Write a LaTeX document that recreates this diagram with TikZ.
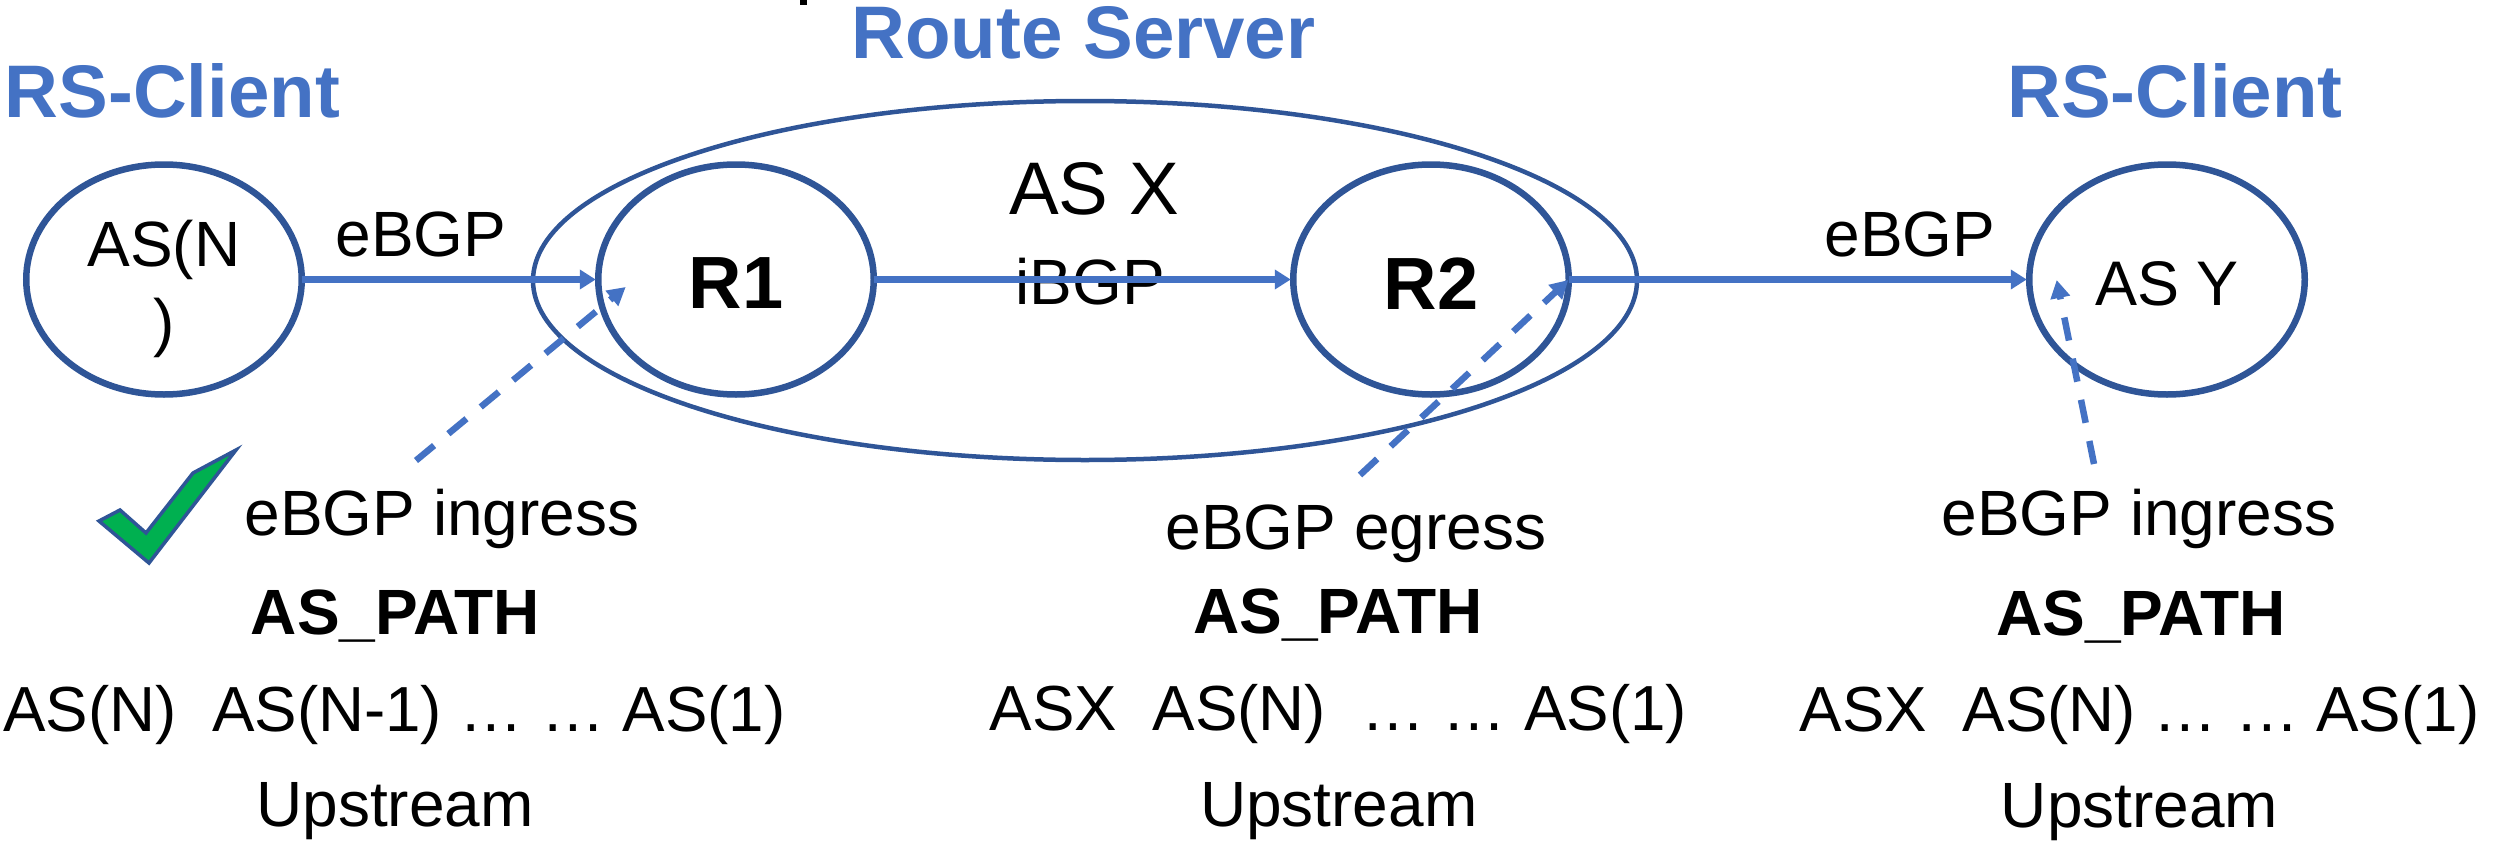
\documentclass[tikz,border=0pt]{standalone}
\usepackage{fontspec}
\setmainfont{Liberation Sans}
\usetikzlibrary{shapes.geometric,arrows.meta}
\definecolor{edgeblue}{HTML}{2F5597}
\definecolor{accent}{HTML}{4472C4}
\definecolor{okgreen}{HTML}{00B050}
\newcommand{\inkdown}[2]{\raisebox{-#1}[\height][\depth]{#2}}
\tikzset{
  x=1pt,y=-1pt,
  routerbox/.style={ellipse,draw=edgeblue,line width=6.5pt,minimum width=275.5pt,minimum height=230pt,inner sep=0pt,outer sep=0pt},
  asbox/.style={ellipse,draw=edgeblue,line width=4.5pt,minimum width=1104pt,minimum height=359pt,inner sep=0pt,outer sep=0pt},
  txt/.style={anchor=base,inner sep=0pt,outer sep=0pt,font=\fontsize{64pt}{78pt}\selectfont},
  pathtxt/.style={anchor=base,inner sep=0pt,outer sep=0pt,font=\fontsize{63.7pt}{78pt}\selectfont},
  bigtxt/.style={anchor=base,inner sep=0pt,outer sep=0pt,font=\fontsize{74.5pt}{80pt}\selectfont},
  boldtxt/.style={anchor=base,inner sep=0pt,outer sep=0pt,font=\fontsize{64pt}{70pt}\selectfont\bfseries},
  titletxt/.style={anchor=base,inner sep=0pt,outer sep=0pt,text=accent,font=\fontsize{74.5pt}{80pt}\selectfont\bfseries},
  linkline/.style={draw=accent,line width=7pt,shorten >=2.5pt,-{Triangle[length=16pt,width=19pt]}},
  hintline/.style={draw=accent,line width=6.5pt,dash pattern=on 23.5pt off 18.5pt,-{Triangle[length=18pt,width=19pt]}},
}
\begin{document}
\begin{tikzpicture}
\useasboundingbox (0,0) rectangle (2497,843);
% cut-off mark at the top edge
\fill[black] (800,0) rectangle (807,5);
% enclosing ellipse
\node[asbox] (rs) at (1085,280.5) {};
% routers
\node[routerbox,font=\fontsize{64pt}{78pt}\selectfont] (asn) at (164,279.5) {\inkdown{10.5pt}{\begin{tabular}{@{}c@{}}AS(N\\)\end{tabular}}};
\node[routerbox,font=\fontsize{74pt}{80pt}\selectfont\bfseries] (r1) at (736,279.5) {\inkdown{4pt}{R1}};
\node[routerbox,font=\fontsize{74pt}{80pt}\selectfont\bfseries] (r2) at (1431,279.5) {\inkdown{4pt}{R2}};
\node[routerbox,font=\fontsize{63pt}{70pt}\selectfont] (asy) at (2167,279.5) {\inkdown{4pt}{AS Y}};
% titles
\node[titletxt] (t1) at (172.5,117) {RS-Client};
\node[titletxt] (t2) at (1083.5,59) {Route Server};
\node[titletxt] (t3) at (2175,117) {RS-Client};
% labels
\node[txt] (e1) at (421,256) {eBGP};
\node[bigtxt] (asx) at (1094,214) {AS X};
\node[txt] (ib) at (1090,304.5) {iBGP};
\node[txt] (e2) at (1910,256) {eBGP};
% connectors
\draw[linkline] (asn) -- (r1);
\draw[linkline] (r1) -- (r2);
\draw[linkline] (r2) -- (asy);
\coordinate (d1a) at (416,460.5);
\coordinate (d1b) at (625.7,287);
\coordinate (d2a) at (1360,475);
\coordinate (d2b) at (1568.3,280);
\coordinate (d3a) at (2094,464);
\coordinate (d3b) at (2056.7,280);
\draw[hintline] (d1a) -- (d1b);
\draw[hintline] (d2a) -- (d2b);
\draw[hintline] (d3a) -- (d3b);
% check mark
\filldraw[fill=okgreen,draw=edgeblue,line width=3.5pt,line join=miter]
  (236,450) -- (193,473) -- (146,533) -- (120,510) -- (99,521) -- (149,563) -- cycle;
% left column
\node[txt] (l1) at (442,535) {eBGP ingress};
\node[boldtxt] (l2) at (395.5,634) {AS\_PATH};
\node[pathtxt] (l3) at (394.5,731) {AS(N)\ \ AS(N-1)\ …\ …\ AS(1)};
\node[txt] (l4) at (395,826) {Upstream};
% middle column
\node[txt] (m1) at (1356,549.5) {eBGP egress};
\node[boldtxt] (m2) at (1338,633.5) {AS\_PATH};
\node[pathtxt] (m3) at (1338.5,730.5) {ASX\ \ AS(N)\ \ …\ …\ AS(1)};
\node[txt] (m4) at (1338.7,826) {Upstream};
% right column
\node[txt] (r1t) at (2139,535) {eBGP ingress};
\node[boldtxt] (r2t) at (2141,635) {AS\_PATH};
\node[pathtxt] (r3t) at (2139.5,731.5) {ASX\ \ AS(N)\ …\ …\ AS(1)};
\node[txt] (r4t) at (2139.5,827) {Upstream};
\end{tikzpicture}
\end{document}
